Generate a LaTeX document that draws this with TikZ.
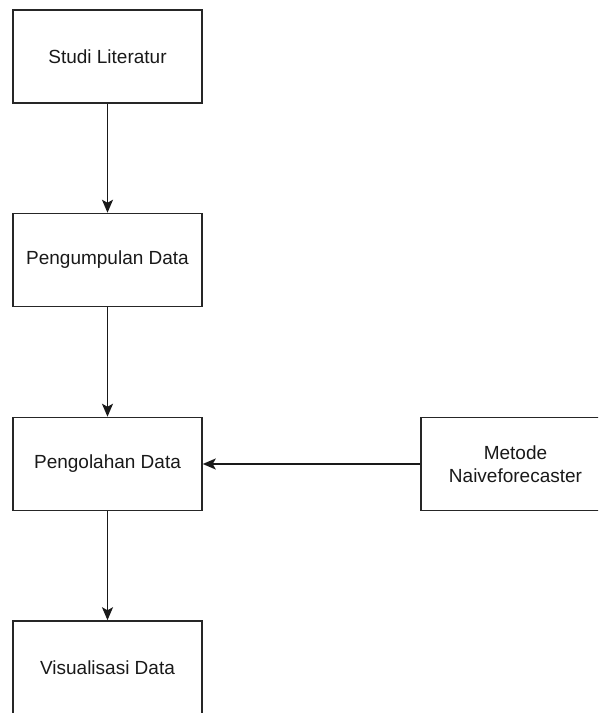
\documentclass[tikz,border=0pt]{standalone}
\usepackage{fontspec}
\setmainfont{Liberation Sans}
\usetikzlibrary{arrows.meta}
\begin{document}
\begin{tikzpicture}[x=1pt,y=1pt,
  box/.style={draw=black!85, line width=1.5pt, minimum width=189pt, minimum height=93pt, inner sep=0pt, align=center, font=\fontsize{19}{23.5}\selectfont, text=black!90},
  conn/.style={draw=black!90, line width=1.5pt, -{Stealth[length=13pt,width=11pt,inset=3pt]}}]
\useasboundingbox (0,0) rectangle (598,-713);
\clip (0,0) rectangle (598,-713);
\node[box] (a) at (107.5,-56.5) {Studi Literatur};
\node[box] (b) at (107.5,-260) {Pengumpulan Data};
\node[box] (c) at (107.5,-464) {Pengolahan Data};
\node[box] (d) at (107.5,-667.5) {Visualisasi Data};
\node[box] (e) at (515.5,-464) {Metode\\Naiveforecaster};
\draw[conn] (a) -- (b);
\draw[conn] (b) -- (c);
\draw[conn] (c) -- (d);
\draw[conn] (e) -- (c);
\end{tikzpicture}
\end{document}
